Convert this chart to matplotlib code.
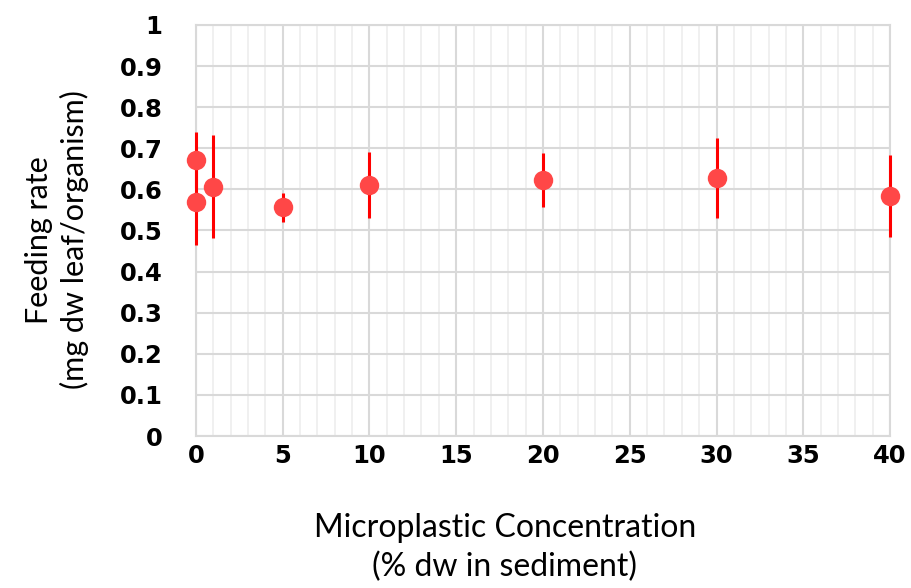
import numpy as np
import matplotlib.pyplot as plt

# data
conc = [0, 0, 1, 5, 10, 20, 30, 40]
feeding = [0.672, 0.570, 0.607, 0.556, 0.610, 0.623, 0.627, 0.583]
err = [0.068, 0.105, 0.125, 0.036, 0.080, 0.066, 0.097, 0.100]

xticks = [0, 5, 10, 15, 20, 25, 30, 35, 40]
yticks = [0, 0.1, 0.2, 0.3, 0.4, 0.5, 0.6, 0.7, 0.8, 0.9, 1]
ylabels = ['0', '0.1', '0.2', '0.3', '0.4', '0.5', '0.6', '0.7', '0.8', '0.9', '1']

fig = plt.figure(figsize=(9.11, 5.88), dpi=100)
ax = fig.add_axes([0.215, 0.2585, 0.762, 0.699])

eb = ax.errorbar(conc, feeding, yerr=err, fmt='none', ecolor='#ff0000', elinewidth=2.2, capsize=0, zorder=5)
for c in eb.lines[2]:
    c.set_clip_on(False)
ax.plot(conc, feeding, 'o', color='#ff4747', markersize=14, markeredgewidth=0, zorder=6, clip_on=False)

ax.set_xlim(0, 40)
ax.set_ylim(0, 1)
ax.set_xticks(xticks)
ax.set_xticks(np.arange(0, 41, 1), minor=True)
ax.set_yticks(yticks)
ax.set_yticklabels(ylabels)
ax.grid(which='major', color='#d9d9d9', linewidth=1.5, zorder=0)
ax.grid(which='minor', axis='x', color='#eeeeee', linewidth=1.2, zorder=0)
ax.set_axisbelow(True)
for s in ax.spines.values():
    s.set_color('#d9d9d9')
    s.set_linewidth(1.5)
    s.set_zorder(1)
ax.tick_params(which='both', length=0)
ax.tick_params(axis='y', pad=24)
ax.tick_params(axis='x', pad=6)
for lab in ax.get_xticklabels() + ax.get_yticklabels():
    lab.set_fontweight('heavy')
    lab.set_fontsize(17.5)
    lab.set_family('DejaVu Sans')

ax.set_xlabel('Microplastic Concentration\n(% dw in sediment)', fontsize=23, family='Lato', labelpad=32, linespacing=1.35)
ax.set_ylabel('Feeding rate\n(mg dw leaf/organism)', fontsize=22, family='Lato', labelpad=22, linespacing=1.3)
ax.xaxis.label.set_x(0.445)
ax.yaxis.label.set_y(0.477)

fig.savefig('out.png', dpi=100)
